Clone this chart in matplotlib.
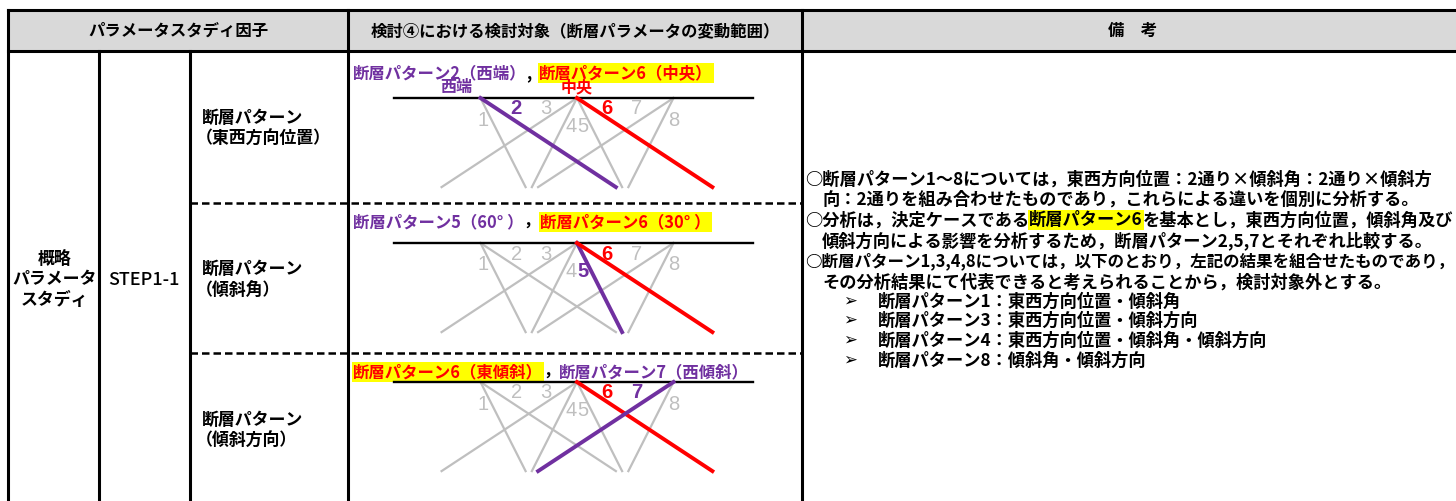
import math
import matplotlib
matplotlib.use("Agg")
import matplotlib.pyplot as plt
from matplotlib.patches import Rectangle

plt.rcParams["font.family"] = ["Noto Sans CJK JP", "DejaVu Sans"]

PURPLE = "#7030A0"
RED = "#FF0000"
YELLOW = "#FFFF00"
GRAY = "#BFBFBF"
HEAD = "#D9D9D9"

# table grid in pixels
col_x = [8, 99, 190, 348, 802, 1464]
row_y = [10, 51, 203, 353, 505]

header_labels = ["パラメータスタディ因子",
                 "検討④における検討対象（断層パラメータの変動範囲）",
                 "備　考"]
factor_main = ["概略", "パラメータ", "スタディ"]
factor_step = "STEP1-1"
factor_rows = [["断層パターン", "（東西方向位置）"],
               ["断層パターン", "（傾斜角）"],
               ["断層パターン", "（傾斜方向）"]]

# fault patterns 1-8: top position, dip angle (deg), dip direction (+1 = east)
fault_no = [1, 2, 3, 4, 5, 6, 7, 8]
fault_top = [-10, -10, 0, 0, 0, 0, 10, 10]
fault_dip = [60, 30, 30, 60, 60, 30, 30, 60]
fault_dir = [1, 1, -1, -1, 1, 1, -1, -1]
fault_depth = 8.1
label_x = [-9.7, -6.3, -3.2, -0.6, 0.6, 3.1, 6.2, 10.0]
label_d = [2.0, 1.0, 1.0, 2.6, 2.6, 1.0, 1.0, 2.0]
surface_x = [-18.96, 18.24]
top_names = [("西端", -12.5), ("中央", 0)]

panel_highlight = [{2: PURPLE, 6: RED}, {5: PURPLE, 6: RED}, {6: RED, 7: PURPLE}]
panel_surface_y = [98, 243, 382]
panel_title_y = [72, 221, 371]
panel_titles = [
    [("断層パターン2（西端）", PURPLE, None), (",", "black", None), ("  ", "black", None),
     ("断層パターン6（中央）", RED, YELLOW)],
    [("断層パターン5（60° ）", PURPLE, None), ("，", "black", None), ("断層パターン6（30° ）", RED, YELLOW)],
    [("断層パターン6（東傾斜）", RED, YELLOW), ("，", "black", None), ("断層パターン7（西傾斜）", PURPLE, None)],
]

remark_lines = [
    (805, 178, 12.4, [("○断層パターン1～8については，東西方向位置：2通り×傾斜角：2通り×傾斜方", "black", None)]),
    (822, 198, 12.4, [("向：2通りを組み合わせたものであり，これらによる違いを個別に分析する。", "black", None)]),
    (805, 219, 12.4, [("○分析は，決定ケースである", "black", None), ("断層パターン6", "black", YELLOW),
                      ("を基本とし，東西方向位置，傾斜角及び", "black", None)]),
    (822, 240, 12.4, [("傾斜方向による影響を分析するため，断層パターン2,5,7とそれぞれ比較する。", "black", None)]),
    (805, 260, 11.9, [("○断層パターン1,3,4,8については，以下のとおり，左記の結果を組合せたものであり，", "black", None)]),
    (822, 281, 12.4, [("その分析結果にて代表できると考えられることから，検討対象外とする。", "black", None)]),
]
bullet_items = ["断層パターン1：東西方向位置・傾斜角",
                "断層パターン3：東西方向位置・傾斜方向",
                "断層パターン4：東西方向位置・傾斜角・傾斜方向",
                "断層パターン8：傾斜角・傾斜方向"]
bullet_y = [301, 320, 340, 360]

W, H = 1456, 501
fig = plt.figure(figsize=(W / 100, H / 100), dpi=100)
ax = fig.add_axes([0, 0, 1, 1])
ax.set_xlim(0, W)
ax.set_ylim(H, 0)
ax.axis("off")
renderer = fig.canvas.get_renderer()


def put(x, yc, segs, size=12, weight="bold"):
    base = yc + 0.36 * size * 100 / 72
    for s, c, bg in segs:
        kw = {}
        if bg:
            kw["bbox"] = dict(facecolor=bg, edgecolor="none", pad=0.8)
        t = ax.text(x, base, s, color=c, fontsize=size, fontweight=weight,
                    ha="left", va="baseline", zorder=5, **kw)
        x += t.get_window_extent(renderer).width


# header band and grid
ax.add_patch(Rectangle((col_x[0], row_y[0]), col_x[-1] - col_x[0], row_y[1] - row_y[0],
                       facecolor=HEAD, edgecolor="none"))
lw = 2.2
for y in [row_y[0], row_y[1], row_y[-1]]:
    ax.plot([col_x[0], col_x[-1]], [y, y], color="black", lw=lw, solid_capstyle="projecting")
for i, x in enumerate(col_x):
    y0 = row_y[1] if i in (1, 2) else row_y[0]
    ax.plot([x, x], [y0, row_y[-1]], color="black", lw=lw, solid_capstyle="projecting")
for y in row_y[2:4]:
    ax.plot([col_x[2], col_x[4]], [y, y], color="black", lw=1.8, ls=(0, (3, 1.6)))

# header text
hx = [(col_x[0] + col_x[3]) / 2, (col_x[3] + col_x[4]) / 2, (col_x[4] + col_x[5]) / 2]
for x, s in zip(hx, header_labels):
    ax.text(x, 31, s, ha="center", va="center", fontsize=11.8, fontweight="bold")

# left columns
for s, y in zip(factor_main, [259, 279, 300]):
    ax.text((col_x[0] + col_x[1]) / 2 + 1, y, s, ha="center", va="center", fontsize=12.2, fontweight="bold")
ax.text((col_x[1] + col_x[2]) / 2 - 1, 280, factor_step, ha="center", va="center",
        fontsize=13, fontweight="medium")
for k, lines in enumerate(factor_rows):
    yc = (row_y[k + 1] + row_y[k + 2]) / 2
    for j, s in enumerate(lines):
        put(202 if j == 0 else 196, yc - 10 + 21 * j, [(s, "black", None)], size=12.2)

# fault diagrams
for k in range(3):
    sy = panel_surface_y[k]
    put(353, panel_title_y[k], panel_titles[k], size=11.8)
    px0, px1 = 380, 770
    py0, py1 = sy - 20, sy + 100
    dax = fig.add_axes([px0 / W, 1 - py1 / H, (px1 - px0) / W, (py1 - py0) / H])
    dax.set_xlim(-20.41, 20.0)
    dax.set_ylim((py1 - sy) / 11, (py0 - sy) / 11)
    dax.axis("off")
    dax.plot(surface_x, [0, 0], color="black", lw=1.7, zorder=3)
    hl = panel_highlight[k]
    for n, x0, dip, d in zip(fault_no, fault_top, fault_dip, fault_dir):
        if n in hl:
            continue
        x1 = x0 + d * fault_depth / math.tan(math.radians(dip))
        dax.plot([x0, x1], [0, fault_depth], color=GRAY, lw=1.6, zorder=2)
    for n, x0, dip, d in zip(fault_no, fault_top, fault_dip, fault_dir):
        if n not in hl:
            continue
        x1 = x0 + d * fault_depth / math.tan(math.radians(dip))
        dax.plot([x0, x1], [0, fault_depth], color=hl[n], lw=2.8, zorder=4)
    for n, lx, ld in zip(fault_no, label_x, label_d):
        c = hl.get(n, GRAY)
        dax.text(lx, ld, str(n), color=c, fontsize=14.5, family="Liberation Sans",
                 fontweight="bold" if n in hl else "normal", ha="center", va="center", zorder=5)
    if k == 0:
        for (s, x), c in zip(top_names, [PURPLE, RED]):
            dax.text(x, -1.0, s, color=c, fontsize=11.5, fontweight="bold",
                     ha="center", va="center")

# remarks
for x, y, size, segs in remark_lines:
    put(x, y, segs, size=size)
for s, y in zip(bullet_items, bullet_y):
    ax.text(843, y, "➢", fontsize=12, ha="left", va="center", family="DejaVu Sans")
    put(878, y, [(s, "black", None)], size=12.4)

fig.savefig("out.png", dpi=100)
